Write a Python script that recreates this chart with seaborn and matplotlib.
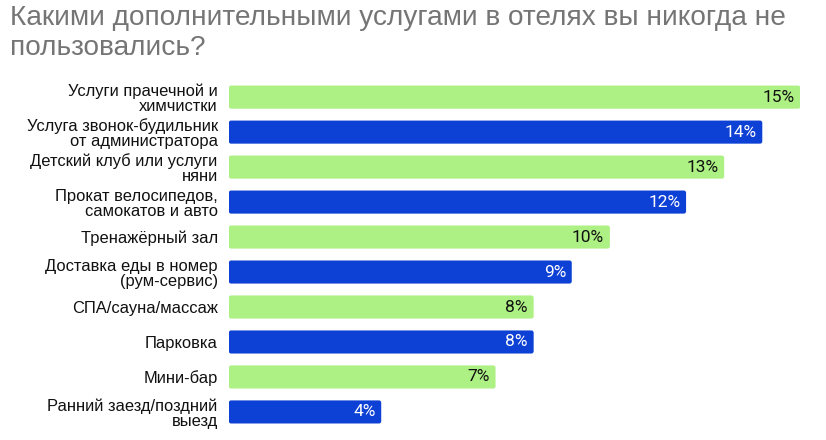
import matplotlib.pyplot as plt
import seaborn as sns
import pandas as pd
from matplotlib.patches import FancyBboxPatch

services = ['Услуги прачечной и\nхимчистки',
            'Услуга звонок-будильник\nот администратора',
            'Детский клуб или услуги\nняни',
            'Прокат велосипедов,\nсамокатов и авто',
            'Тренажёрный зал',
            'Доставка еды в номер\n(рум-сервис)',
            'СПА/сауна/массаж',
            'Парковка',
            'Мини-бар',
            'Ранний заезд/поздний\nвыезд']
share = [15, 14, 13, 12, 10, 9, 8, 8, 7, 4]

green = '#adf084'
blue = '#0d40d4'
colors = [green if i % 2 == 0 else blue for i in range(len(services))]

df = pd.DataFrame({'service': services, 'share': share})

sns.set_style('white')
plt.rcParams['font.family'] = ['Liberation Sans', 'DejaVu Sans']

fig = plt.figure(figsize=(8.26, 4.4), dpi=100)
ax = fig.add_axes([0.277, 0.024, 0.692, 0.795])
sns.barplot(data=df, x='share', y='service', hue='service', palette=colors,
            legend=False, width=0.66, ax=ax, saturation=1)

# скруглённые углы у полос
for p in list(ax.patches):
    fb = FancyBboxPatch((p.get_x(), p.get_y()), p.get_width(), p.get_height(),
                        boxstyle='round,pad=0,rounding_size=0.06',
                        mutation_aspect=1.09, facecolor=p.get_facecolor(),
                        edgecolor='none')
    p.remove()
    ax.add_patch(fb)

for i, v in enumerate(share):
    ax.text(v - 0.15, i, f'{v}%', ha='right', va='center', fontsize=12.5,
            family=['Roboto', 'DejaVu Sans'],
            color='white' if i % 2 else '#111111')

ax.set_xlim(0, 15)
ax.set_ylim(9.5, -0.5)
ax.set_xlabel('')
ax.set_ylabel('')
ax.set_xticks([])
ax.set_yticks(range(len(services)))
ax.set_yticklabels(services, ha='right', multialignment='right',
                   fontsize=11.9, color='#111111', linespacing=1.0)
ax.tick_params(axis='y', length=0, pad=8)
sns.despine(ax=ax, left=True, bottom=True)

fig.text(0.012, 0.988, 'Какими дополнительными услугами в отелях вы никогда не\nпользовались?',
         ha='left', va='top', fontsize=20.2, color='#757575', linespacing=1.18)

fig.savefig('out.png', dpi=100)
